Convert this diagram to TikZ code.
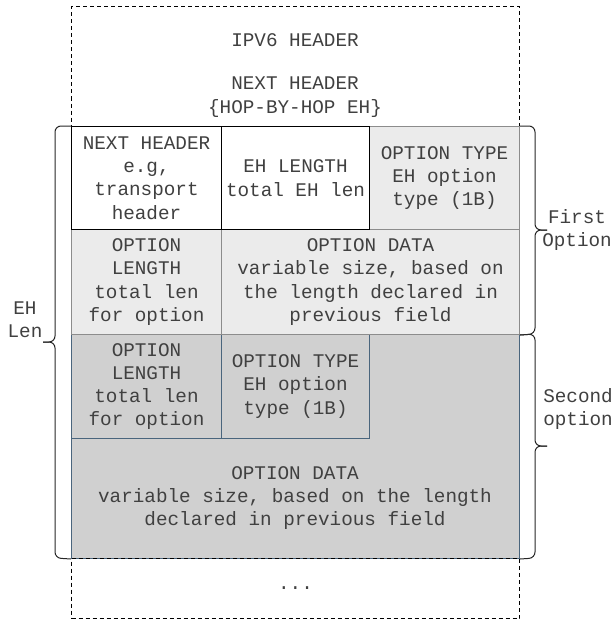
\documentclass[tikz,border=0pt]{standalone}
\usepackage{fontspec}
\setmainfont{Liberation Mono}
\setmonofont{Liberation Mono}
\definecolor{txt}{HTML}{404040}
\definecolor{lightfill}{HTML}{EBEBEB}
\definecolor{darkfill}{HTML}{D0D0D0}
\definecolor{blueline}{HTML}{4A657D}
\definecolor{grayline}{HTML}{8C8C8C}
\begin{document}
\begin{tikzpicture}[x=1pt,y=-1pt,
  font=\fontsize{19.3}{23.3}\selectfont, text=txt,
  cell/.style={anchor=north west, inner sep=0pt, line width=1pt, align=center},
  dashbox/.style={cell, draw=black, dash pattern=on 4pt off 3pt},
  lbl/.style={align=center, inner sep=0pt},
  bracepath/.style={draw=black!85, line width=1pt, rounded corners=6pt}]
\useasboundingbox (0,0) rectangle (613,621);
% top dashed box
\node[dashbox, minimum width=448pt, minimum height=120pt] (ipv6) at (71,6) {};
\node[lbl] (ipv6t) at (295,40) {IPV6 HEADER};
\node[lbl] (nxt) at (295,97) {NEXT HEADER\\\{HOP-BY-HOP EH\}};
% second option
\node[cell, fill=darkfill, draw=blueline, minimum width=448pt, minimum height=224pt] (opt2) at (71,334) {};
\node[cell, draw=blueline, minimum width=150pt, minimum height=104pt] (ol2) at (71,334) {OPTION\\LENGTH\\total len\\for option};
\node[cell, draw=blueline, minimum width=148pt, minimum height=104pt] (ot2) at (221,334) {OPTION TYPE\\EH option\\type (1B)};
\node[lbl] (od2) at (295,498) {OPTION DATA\\variable size, based on the length\\declared in previous field};
% first option, row 2
\node[cell, fill=lightfill, draw=grayline, minimum width=150pt, minimum height=105pt] (ol1) at (71,229) {OPTION\\LENGTH\\total len\\for option};
\node[cell, fill=lightfill, draw=grayline, minimum width=298pt, minimum height=105pt] (od1) at (221,229) {OPTION DATA\\variable size, based on\\the length declared in\\previous field};
% row 1
\node[cell, fill=lightfill, draw=grayline, minimum width=150pt, minimum height=103pt] (ot1) at (369,126) {OPTION TYPE\\EH option\\type (1B)};
\node[cell, fill=white, draw=black, minimum width=150pt, minimum height=103pt] (nh) at (71,126) {NEXT HEADER\\e.g,\\transport\\header};
\node[cell, fill=white, draw=black, minimum width=148pt, minimum height=103pt] (ehl) at (221,126) {EH LENGTH\\total EH len};
% bottom dashed box
\node[dashbox, minimum width=448pt, minimum height=60pt] (more) at (71,558) {...};
% braces
\coordinate (ehtip) at (43,342);
\coordinate (fotip) at (547,230);
\coordinate (sotip) at (547,446);
\draw[bracepath] (nh.north west) -- (55,126) -- (55,342) -- (ehtip);
\draw[bracepath] (ehtip) -- (55,342) -- (55,558) -- (opt2.south west);
\draw[bracepath] (ot1.north east) -- (535,126) -- (535,230) -- (fotip);
\draw[bracepath] (fotip) -- (535,230) -- (535,334) -- (od1.south east);
\draw[bracepath] (od1.south east) -- (535,334) -- (535,446) -- (sotip);
\draw[bracepath] (sotip) -- (535,446) -- (535,558) -- (opt2.south east);
% brace labels
\node[lbl] (ehlen) at (25,320) {EH\\Len};
\node[lbl] (first) at (577,230) {First\\Option};
\node[lbl] (second) at (578,409) {Second\\option};
\end{tikzpicture}
\end{document}
